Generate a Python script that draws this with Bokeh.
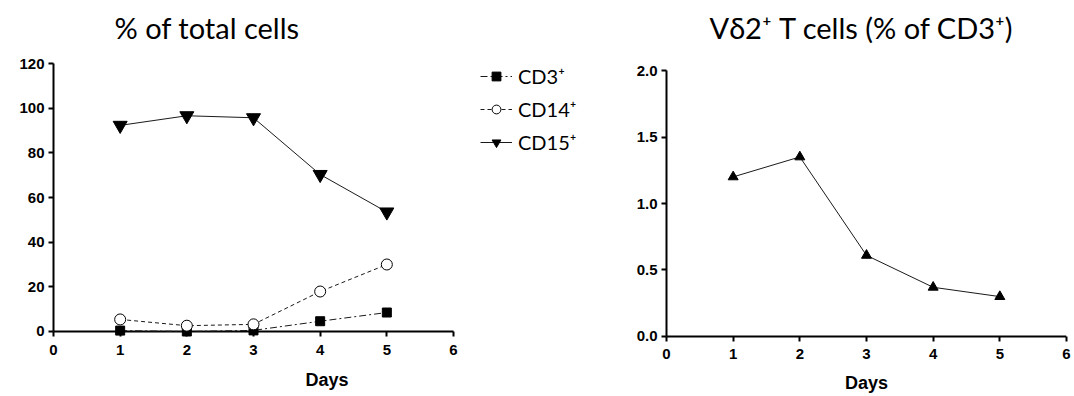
from bokeh.plotting import figure
from bokeh.models import Legend, LegendItem, FixedTicker, PrintfTickFormatter, Range1d
from bokeh.layouts import row
from bokeh.embed import file_html
from bokeh.resources import INLINE

# ---- data ----
days = [1, 2, 3, 4, 5]
cd3 = [0.4, 0.0, 0.5, 4.6, 8.5]
cd14 = [5.4, 2.6, 3.2, 17.9, 30.0]
cd15 = [92.3, 96.6, 95.7, 70.3, 53.5]
vd2 = [1.20, 1.35, 0.61, 0.37, 0.30]

x_ticks = [0, 1, 2, 3, 4, 5, 6]
left_y_ticks = [0, 20, 40, 60, 80, 100, 120]
right_y_ticks = [0.0, 0.5, 1.0, 1.5, 2.0]

left_title = "% of total cells"
right_title = "V\u03b42\u207a T cells (% of CD3\u207a)"
legend_labels = ["CD3\u207a", "CD14\u207a", "CD15\u207a"]

TITLE_FONT = "Lato"
TICK_FONT = "Liberation Sans"
INK = "#1a1a1a"


def style_axes(p):
    for ax in (p.xaxis[0], p.yaxis[0]):
        ax.axis_line_width = 2
        ax.axis_line_color = "black"
        ax.major_tick_line_width = 2
        ax.major_tick_line_color = "black"
        ax.major_tick_out = 5
        ax.major_tick_in = 0
        ax.minor_tick_line_color = None
        ax.major_label_text_font = TICK_FONT
        ax.major_label_text_font_style = "bold"
        ax.major_label_text_font_size = "15px"
        ax.major_label_text_color = "black"
        ax.major_label_standoff = 4
        ax.axis_label_text_font = TICK_FONT
        ax.axis_label_text_font_style = "bold"
        ax.axis_label_text_font_size = "18px"
        ax.axis_label_text_color = "black"
        ax.axis_label_standoff = 4
    # x axis is drawn at y = 0, a few pixels above the frame bottom
    p.xaxis.axis_line_color = None
    p.xgrid.visible = False
    p.ygrid.visible = False
    p.outline_line_color = None
    p.background_fill_color = "white"
    p.border_fill_color = "white"
    p.title.text_font = TITLE_FONT
    p.title.text_font_style = "normal"
    p.title.text_font_size = "29px"
    p.title.text_color = "black"
    p.title.align = "left"
    p.title.standoff = 1


# ---- left chart ----
p1 = figure(width=608, height=396, x_range=Range1d(0, 8.205), y_range=Range1d(-4.03, 128.06),
            output_backend="svg", toolbar_location=None, title=left_title,
            min_border_left=53, min_border_right=8, min_border_top=45, min_border_bottom=56)
style_axes(p1)
p1.title.offset = 61
p1.xaxis.bounds = (0, 6)
p1.xaxis.ticker = FixedTicker(ticks=x_ticks)
p1.xaxis.axis_label = "Days"
p1.xaxis.major_tick_in = 9
p1.xaxis.major_tick_out = -4
p1.xaxis.major_label_standoff = 4
p1.xaxis.axis_label_standoff = 12
p1.yaxis.bounds = (0, 120)
p1.yaxis.ticker = FixedTicker(ticks=left_y_ticks)

p1.segment(x0=[x_ticks[0]], y0=[left_y_ticks[0]], x1=[x_ticks[-1]], y1=[left_y_ticks[0]],
           line_color="black", line_width=2)

l3 = p1.line(days, cd3, line_color=INK, line_width=1, line_dash="7 3 2 3")
s3 = p1.scatter(days, cd3, marker="square", size=9, fill_color="black", line_color="black")
l14 = p1.line(days, cd14, line_color=INK, line_width=1, line_dash="4 3")
s14 = p1.scatter(days, cd14, marker="circle", size=11, fill_color="white", line_color="black", line_width=1)
l15 = p1.line(days, cd15, line_color=INK, line_width=1)
s15 = p1.scatter(days, cd15, marker="inverted_triangle", size=14, fill_color="black", line_color="black")

legend = Legend(items=[
    LegendItem(label=legend_labels[0], renderers=[l3, s3]),
    LegendItem(label=legend_labels[1], renderers=[l14, s14]),
    LegendItem(label=legend_labels[2], renderers=[l15, s15]),
], location=(427, 186))
legend.margin = 0
legend.padding = 0
legend.border_line_color = None
legend.background_fill_alpha = 0
legend.glyph_width = 32
legend.glyph_height = 22
legend.label_height = 22
legend.spacing = 9
legend.label_standoff = 6
legend.label_text_font = TITLE_FONT
legend.label_text_font_size = "20px"
legend.label_text_color = "black"
p1.add_layout(legend)

# ---- right chart ----
p2 = figure(width=466, height=396, x_range=Range1d(0, 6), y_range=Range1d(-0.0301, 2.188),
            output_backend="svg", toolbar_location=None, title=right_title,
            min_border_left=58, min_border_right=8, min_border_top=45, min_border_bottom=56)
style_axes(p2)
p2.title.offset = 43
p2.xaxis.ticker = FixedTicker(ticks=x_ticks)
p2.xaxis.axis_label = "Days"
p2.xaxis.major_tick_in = 4
p2.xaxis.major_tick_out = 1
p2.xaxis.major_label_standoff = 7
p2.xaxis.axis_label_standoff = 11
p2.yaxis.bounds = (0, 2)
p2.yaxis.ticker = FixedTicker(ticks=right_y_ticks)
p2.yaxis.formatter = PrintfTickFormatter(format="%.1f")

p2.segment(x0=[x_ticks[0]], y0=[right_y_ticks[0]], x1=[x_ticks[-1]], y1=[right_y_ticks[0]],
           line_color="black", line_width=2)
p2.line(days, vd2, line_color=INK, line_width=1)
p2.scatter(days, vd2, marker="triangle", size=10, fill_color="black", line_color="black")

layout = row(p1, p2)
open("out.html", "w").write(file_html(layout, INLINE))
